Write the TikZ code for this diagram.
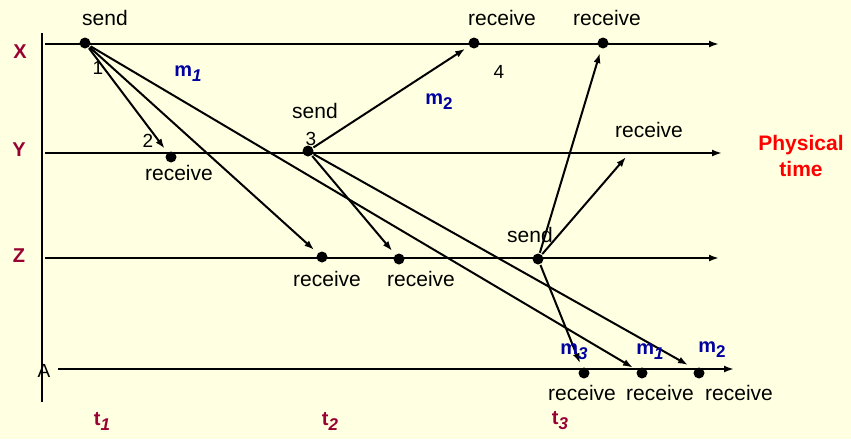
\documentclass[tikz,border=0pt]{standalone}
\usepackage{fontspec}
\setmainfont{Liberation Sans}
\usetikzlibrary{arrows.meta}
\definecolor{bgc}{RGB}{255,255,225}
\definecolor{proc}{RGB}{153,0,51}
\definecolor{msg}{RGB}{0,0,160}
\definecolor{phys}{RGB}{255,0,0}
\newcommand{\msub}[2]{m\raisebox{-5pt}{\fontsize{17}{17}\selectfont #1{#2}}}
\newcommand{\tsub}[1]{t\raisebox{-5pt}{\fontsize{17}{17}\selectfont\itshape #1}}
\begin{document}
\begin{tikzpicture}[x=1pt,y=-1pt,line width=2pt,
  tl/.style={-{Latex[length=10pt,width=7pt]}},
  msgline/.style={-{Latex[length=10pt,width=7pt]},shorten >=4pt},
  ev/.style={circle,fill=black,inner sep=0pt,minimum size=11pt},
  txt/.style={font=\fontsize{21}{23}\selectfont,inner sep=0pt},
  num/.style={font=\fontsize{19}{21}\selectfont,inner sep=0pt},
  plab/.style={font=\fontsize{20}{22}\selectfont\bfseries,text=proc,inner sep=0pt},
  mlab/.style={font=\fontsize{20}{22}\selectfont\bfseries,text=msg,inner sep=0pt},
]
\fill[bgc] (0,0) rectangle (851,439);
\useasboundingbox (0,0) rectangle (851,439);

% axis and process lines
\coordinate (vtop) at (42,33);
\coordinate (vbot) at (42,402);
\draw (vtop) -- (vbot);
\coordinate (xs) at (45,44);  \coordinate (xe) at (719,44);
\coordinate (ys) at (45,153); \coordinate (ye) at (722,153);
\coordinate (zs) at (45,258); \coordinate (ze) at (719,258);
\coordinate (as) at (58,369); \coordinate (ae) at (734,369);
\draw[tl] (xs) -- (xe);
\draw[tl] (ys) -- (ye);
\draw[tl] (zs) -- (ze);
\draw[tl] (as) -- (ae);

% process labels
\node[plab] (lx) at (20,52) {X};
\node[plab] (ly) at (19,150) {Y};
\node[plab] (lz) at (19,256) {Z};
\node[txt,font=\fontsize{19}{21}\selectfont] (la) at (44,371) {A};
\node[plab] (t1) at (102,421) {\tsub{1}};
\node[plab] (t2) at (330,421) {\tsub{2}};
\node[plab] (t3) at (560,421) {\tsub{3}};

% events
\node[ev] (xsend) at (85,43) {};
\node[ev] (xrec1) at (474,43) {};
\node[ev] (xrec2) at (603,43) {};
\node[ev] (yrec) at (171,157) {};
\node[ev] (ysend) at (308,151) {};
\node[ev] (zrec1) at (322,257) {};
\node[ev] (zrec2) at (399,259) {};
\node[ev] (zsend) at (538,259) {};
\node[ev] (arec1) at (584,373) {};
\node[ev] (arec2) at (642,373) {};
\node[ev] (arec3) at (699,373) {};
\coordinate (yright) at (626,157);
\coordinate (am2) at (688,365);

% messages
\draw[msgline] (xsend) -- (yrec);
\draw[msgline] (xsend) -- (zrec1);
\draw[msgline] (xsend) -- (arec2);
\draw[msgline] (ysend) -- (xrec1);
\draw[msgline] (ysend) -- (zrec2);
\draw[msgline,shorten >=0pt] (ysend) -- (am2);
\draw[msgline] (zsend) -- (xrec2);
\draw[msgline,shorten >=0pt] (zsend) -- (yright);
\draw[msgline] (zsend) -- (arec1);

% texts
\node[txt] (s1) at (105,18) {send};
\node[txt] (r1) at (502,18) {receive};
\node[txt] (r2) at (607,18) {receive};
\node[num] (n1) at (98,68) {1};
\node[num] (n2) at (148,141) {2};
\node[num] (n3) at (311,139) {3};
\node[num] (n4) at (499,72) {4};
\node[txt] (s2) at (315,111) {send};
\node[txt] (r3) at (179,173) {receive};
\node[txt] (r4) at (327,279) {receive};
\node[txt] (r5) at (421,279) {receive};
\node[txt] (s3) at (530,235) {send};
\node[txt] (r6) at (649,130) {receive};
\node[txt] (r7) at (582,393) {receive};
\node[txt] (r8) at (660,393) {receive};
\node[txt] (r9) at (739,393) {receive};

\node[mlab] (m1a) at (188,74) {\msub{\itshape}{1}};
\node[mlab] (m2a) at (439,102) {\msub{}{2}};
\node[mlab] (m3b) at (574,352) {\msub{\itshape}{3}};
\node[mlab] (m1b) at (650,352) {\msub{\itshape}{1}};
\node[mlab] (m2b) at (712,350) {\msub{}{2}};

\node[font=\fontsize{21}{26}\selectfont\bfseries,text=phys,align=center,inner sep=0pt] (pt) at (801,156) {Physical\\time};
\end{tikzpicture}
\end{document}
